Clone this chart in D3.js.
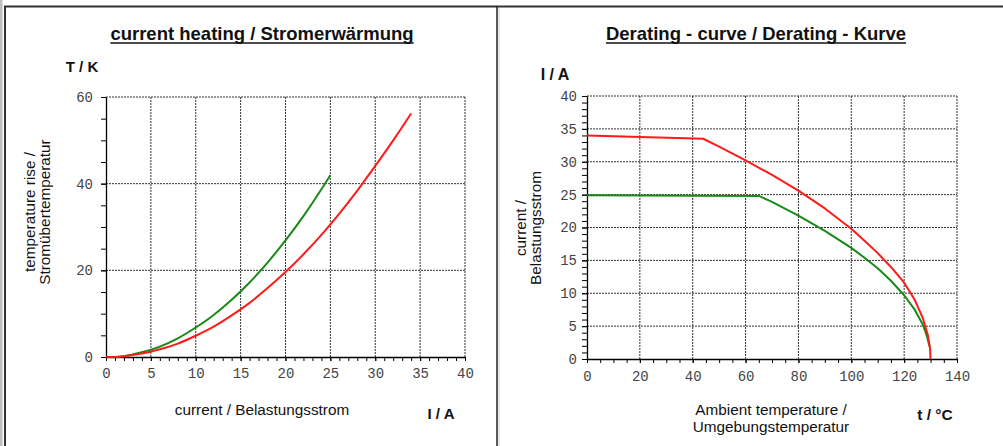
<!DOCTYPE html>
<html><head><meta charset="utf-8">
<script src="https://cdn.jsdelivr.net/npm/d3@7/dist/d3.min.js"></script>
<style>
html,body{margin:0;padding:0;background:#fff;}
svg{display:block;}
</style></head>
<body>
<svg id="c" width="1003" height="446"></svg>
<script>
// ---- Data: current heating (I / A, T / K) ----
const heatGreen = [[0,0],[1,0],[2,0.2],[4,1.1],[6,2.4],[8,4.3],[10,6.8],[12,9.7],[14,13.2],[16,17.2],[18,21.8],[20,26.9],[22,32.5],[24,38.7],[25,42]];
const heatRed = [[0,0],[1,0],[2,0.2],[4,0.8],[6,1.8],[8,3.1],[10,4.9],[12,7.0],[14,9.6],[16,12.5],[18,15.9],[20,19.6],[22,23.7],[24,28.2],[26,33.1],[28,38.4],[30,44.1],[32,50.0],[34,56.2]];
const heatXTicks = [0,5,10,15,20,25,30,35,40];
const heatYTicks = [0,20,40,60];

// ---- Data: derating curve (t / °C, I / A) ----
const deratRed = [[0,34.0],[44,33.5],[50,32.3],[60,30.2],[70,28.0],[80,25.6],[90,22.9],[100,19.8],[105,18.0],[110,16.1],[115,14.0],[120,11.6],[124,9.0],[127,6.3],[129,3.6],[129.8,1.6],[130,0]];
const deratGreen = [[0,24.9],[65,24.8],[70,23.9],[80,21.8],[90,19.5],[100,16.9],[105,15.4],[110,13.8],[115,11.9],[120,9.7],[124,7.5],[127,5.3],[128.6,3.5],[129.6,1.9]];
const deratXTicks = [0,20,40,60,80,100,120,140];
const deratYTicks = [0,5,10,15,20,25,30,35,40];

const RED = "#ff1a1a", GREEN = "#178a17";
const svg = d3.select("#c");

// frame
svg.append("rect").attr("x",0).attr("y",0).attr("width",2.5).attr("height",446).attr("fill","#c0c0c0");
svg.append("line").attr("x1",5).attr("x2",5).attr("y1",6).attr("y2",446).attr("stroke","#333").attr("stroke-width",2);
svg.append("line").attr("x1",4).attr("x2",1003).attr("y1",6.5).attr("y2",6.5).attr("stroke","#333").attr("stroke-width",2);
svg.append("line").attr("x1",497).attr("x2",497).attr("y1",6).attr("y2",446).attr("stroke","#222").attr("stroke-width",1.5);
svg.append("line").attr("x1",499).attr("x2",499).attr("y1",8).attr("y2",446).attr("stroke","#d0d0d0").attr("stroke-width",1);

function title(text, cx, y){
  const t = svg.append("text").attr("x",cx).attr("y",y).attr("text-anchor","middle")
    .attr("font-family","Liberation Sans, Arial, sans-serif").attr("font-weight","bold")
    .attr("font-size",18.5).attr("fill","#111").text(text);
  const w = t.node().getComputedTextLength();
  svg.append("line").attr("x1",cx-w/2).attr("x2",cx+w/2).attr("y1",y+3).attr("y2",y+3)
    .attr("stroke","#111").attr("stroke-width",1.5);
}

function chart(o){
  const x = d3.scaleLinear().domain(o.xDom).range([o.left,o.right]);
  const y = d3.scaleLinear().domain(o.yDom).range([o.bottom,o.top]);
  const g = svg.append("g");
  // grid
  const grid = g.append("g").attr("stroke","#333").attr("stroke-width",1).attr("stroke-dasharray","2,1");
  o.xTicks.filter(v=>v!==o.xDom[0]).forEach(v=>{
    grid.append("line").attr("x1",x(v)).attr("x2",x(v)).attr("y1",o.top).attr("y2",o.bottom);
  });
  o.yTicks.filter(v=>v!==o.yDom[0]).forEach(v=>{
    grid.append("line").attr("x1",o.left).attr("x2",o.right).attr("y1",y(v)).attr("y2",y(v));
  });
  // minor ticks
  const xAxisMinor = d3.axisBottom(x).tickValues(d3.range(o.xDom[0],o.xDom[1]+1e-9,o.xMinor)).tickSize(4).tickFormat("");
  const yAxisMinor = d3.axisLeft(y).tickValues(d3.range(o.yDom[0],o.yDom[1]+1e-9,o.yMinor)).tickSize(5).tickFormat("");
  g.append("g").attr("transform",`translate(0,${o.bottom})`).call(xAxisMinor).call(s=>s.select(".domain").remove()).selectAll("line").attr("stroke","#000");
  g.append("g").attr("transform",`translate(${o.left},0)`).call(yAxisMinor).call(s=>s.select(".domain").remove()).selectAll("line").attr("stroke","#000");
  // major axes with labels
  const xa = g.append("g").attr("transform",`translate(0,${o.bottom})`)
    .call(d3.axisBottom(x).tickValues(o.xTicks).tickSize(4).tickPadding(o.xPad).tickSizeOuter(0));
  const ya = g.append("g").attr("transform",`translate(${o.left},0)`)
    .call(d3.axisLeft(y).tickValues(o.yTicks).tickSize(5).tickPadding(o.yPad).tickSizeOuter(0));
  [xa,ya].forEach(a=>{
    a.select(".domain").attr("stroke","#000").attr("stroke-width",1.3);
    a.selectAll("line").attr("stroke","#000");
    a.selectAll("text").attr("font-family","Liberation Mono, Courier New, monospace").attr("font-size",14).attr("fill","#444");
  });
  // lines
  const line = d3.line().x(d=>x(d[0])).y(d=>y(d[1])).curve(d3.curveMonotoneX);
  o.series.forEach(s=>{
    g.append("path").datum(s.data).attr("d", s.linear ? d3.line().x(d=>x(d[0])).y(d=>y(d[1]))(s.data) : line(s.data))
      .attr("fill","none").attr("stroke",s.color).attr("stroke-width",2).attr("stroke-linejoin","round");
  });
}

title("current heating / Stromerwärmung", 262, 40);
title("Derating - curve / Derating - Kurve", 756, 40);

chart({xDom:[0,40], yDom:[0,60], left:106, right:465, top:97, bottom:357,
  xTicks:heatXTicks, yTicks:heatYTicks, xMinor:1, yMinor:5, xPad:7, yPad:8,
  series:[{data:heatGreen,color:GREEN},{data:heatRed,color:RED}]});

chart({xDom:[0,140], yDom:[0,40], left:587, right:957, top:96, bottom:359,
  xTicks:deratXTicks, yTicks:deratYTicks, xMinor:5, yMinor:1, xPad:8, yPad:5,
  series:[{data:deratGreen,color:GREEN,linear:true},{data:deratRed,color:RED,linear:true}]});

// axis titles
const ff = "Liberation Sans, Arial, sans-serif";
function txt(t, x, y, opts={}){
  return svg.append("text").attr("x",x).attr("y",y).attr("font-family",ff)
    .attr("font-size",opts.size||15.3).attr("font-weight",opts.bold?"bold":"normal")
    .attr("text-anchor",opts.anchor||"middle").attr("fill","#111")
    .attr("transform",opts.rot?`rotate(-90,${x},${y})`:null).text(t);
}
txt("T / K", 82, 72, {bold:true, size:15});
txt("I / A", 555, 80, {bold:true, size:16});
txt("current / Belastungsstrom", 262, 415);
txt("I / A", 441, 419, {bold:true, size:15});
txt("Ambient temperature /", 771, 415);
txt("Umgebungstemperatur", 771, 432);
txt("t / °C", 935, 420, {bold:true, size:15.5});
txt("temperature rise /", 35, 212, {rot:true});
txt("Stromübertemperatur", 50, 212, {rot:true});
txt("current /", 526, 228, {rot:true});
txt("Belastungsstrom", 541, 228, {rot:true});
</script>
</body></html>
